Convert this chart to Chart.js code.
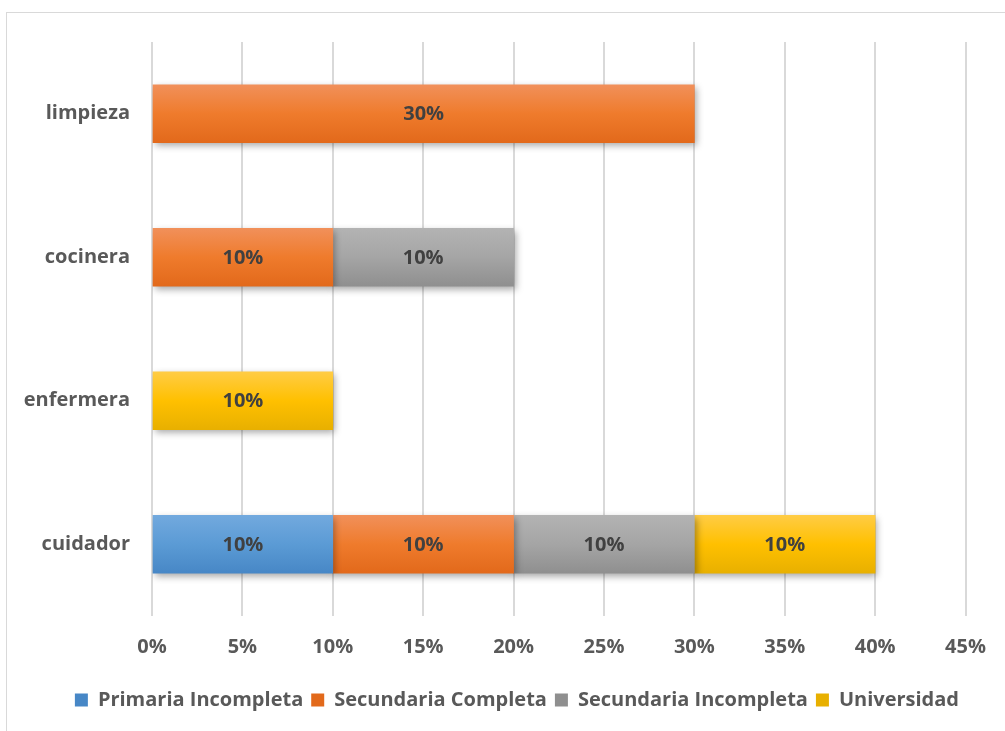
<!DOCTYPE html>
<html>
<head>
<meta charset="utf-8">
<script src="https://cdn.jsdelivr.net/npm/chart.js@4/dist/chart.umd.min.js"></script>
<style>
  html, body { margin: 0; padding: 0; background: #fff; }
  #wrap { width: 1005px; height: 731px; position: relative; }
</style>
</head>
<body>
<div id="wrap"><canvas id="grafico" width="1005" height="731"></canvas></div>
<script>
// Ocupación por nivel de estudios (porcentaje)
const categorias = ['limpieza', 'cocinera', 'enfermera', 'cuidador'];
const primariaIncompleta = [0, 0, 0, 10];
const secundariaCompleta = [30, 10, 0, 10];
const secundariaIncompleta = [0, 10, 0, 10];
const universidad = [0, 0, 10, 10];
const ticksX = [0, 5, 10, 15, 20, 25, 30, 35, 40, 45];

const FUENTE = '"Open Sans", sans-serif';
const GRIS_TEXTO = '#595959';
const GROSOR = 58;

// los ceros no se dibujan
const sinCeros = (arr) => arr.map(v => v || null);

// degradado vertical de cada barra (claro arriba, oscuro abajo)
function degradado(colores) {
    return (ctx) => {
        const chart = ctx.chart;
        const y = chart.scales && chart.scales.y;
        if (!chart.chartArea || !y || ctx.dataIndex === undefined) return colores[1];
        const c = y.getPixelForValue(ctx.dataIndex);
        const g = chart.ctx.createLinearGradient(0, c - GROSOR / 2, 0, c + GROSOR / 2);
        g.addColorStop(0, colores[0]);
        g.addColorStop(0.5, colores[1]);
        g.addColorStop(1, colores[2]);
        return g;
    };
}

// marco exterior
const marco = {
    id: 'marco',
    beforeDraw(chart) {
        const c = chart.ctx;
        c.save();
        c.fillStyle = '#fff';
        c.fillRect(0, 0, chart.width, chart.height);
        c.strokeStyle = '#d9d9d9';
        c.lineWidth = 1;
        c.strokeRect(6.5, 12.5, chart.width + 10, chart.height + 10);
        c.restore();
    }
};

// sombra de las barras y etiquetas de valor
const etiquetas = {
    id: 'etiquetas',
    beforeDatasetsDraw(chart) {
        const c = chart.ctx;
        c.save();
        c.shadowColor = 'rgba(0,0,0,0.35)';
        c.shadowBlur = 7;
        c.shadowOffsetX = 2;
        c.shadowOffsetY = 3;
    },
    afterDatasetsDraw(chart) {
        const c = chart.ctx;
        c.restore();
        c.save();
        c.font = 'bold 20px ' + FUENTE;
        c.fillStyle = '#404040';
        c.textAlign = 'center';
        c.textBaseline = 'middle';
        chart.data.datasets.forEach((ds, i) => {
            const meta = chart.getDatasetMeta(i);
            meta.data.forEach((bar, j) => {
                const v = ds.data[j];
                if (!v) return;
                const p = bar.getProps(['x', 'y', 'base'], true);
                c.fillText(v + '%', (p.x + p.base) / 2, p.y + 1);
            });
        });
        c.restore();
    }
};

new Chart(document.getElementById('grafico'), {
    type: 'bar',
    data: {
        labels: categorias,
        datasets: [
            { label: 'Primaria Incompleta', data: sinCeros(primariaIncompleta), backgroundColor: degradado(['#72a9de', '#5b9bd5', '#4787c6']) },
            { label: 'Secundaria Completa', data: sinCeros(secundariaCompleta), backgroundColor: degradado(['#f1905a', '#ef7b2c', '#e2691b']) },
            { label: 'Secundaria Incompleta', data: sinCeros(secundariaIncompleta), backgroundColor: degradado(['#b3b3b3', '#a5a5a5', '#8f8f8f']) },
            { label: 'Universidad', data: sinCeros(universidad), backgroundColor: degradado(['#ffcc45', '#ffc000', '#e8b000']) }
        ]
    },
    options: {
        indexAxis: 'y',
        responsive: false,
        animation: false,
        devicePixelRatio: 1,
        barThickness: GROSOR,
        layout: { padding: { top: 42, right: 38, bottom: 11, left: 0 } },
        scales: {
            x: {
                stacked: true,
                min: 0,
                max: 45,
                afterBuildTicks: (s) => { s.ticks = ticksX.map(v => ({ value: v })); },
                afterFit: (s) => { s.height = 66; },
                grid: { color: '#d9d9d9', lineWidth: 2, drawTicks: false },
                border: { display: false },
                ticks: {
                    padding: 19,
                    color: GRIS_TEXTO,
                    font: { family: FUENTE, size: 20, weight: 'bold' },
                    callback: (v) => v + '%'
                }
            },
            y: {
                stacked: true,
                afterFit: (s) => { s.width = 152; },
                grid: { display: false, drawTicks: false },
                border: { display: false },
                ticks: {
                    padding: 22,
                    color: GRIS_TEXTO,
                    font: { family: FUENTE, size: 20, weight: 'bold' }
                }
            }
        },
        plugins: {
            legend: {
                position: 'bottom',
                align: 'end',
                labels: {
                    boxWidth: 13,
                    boxHeight: 13,
                    padding: 8,
                    color: GRIS_TEXTO,
                    font: { family: FUENTE, size: 20, weight: 'bold' }
                }
            },
            tooltip: { enabled: false }
        }
    },
    plugins: [marco, etiquetas]
});
</script>
</body>
</html>
